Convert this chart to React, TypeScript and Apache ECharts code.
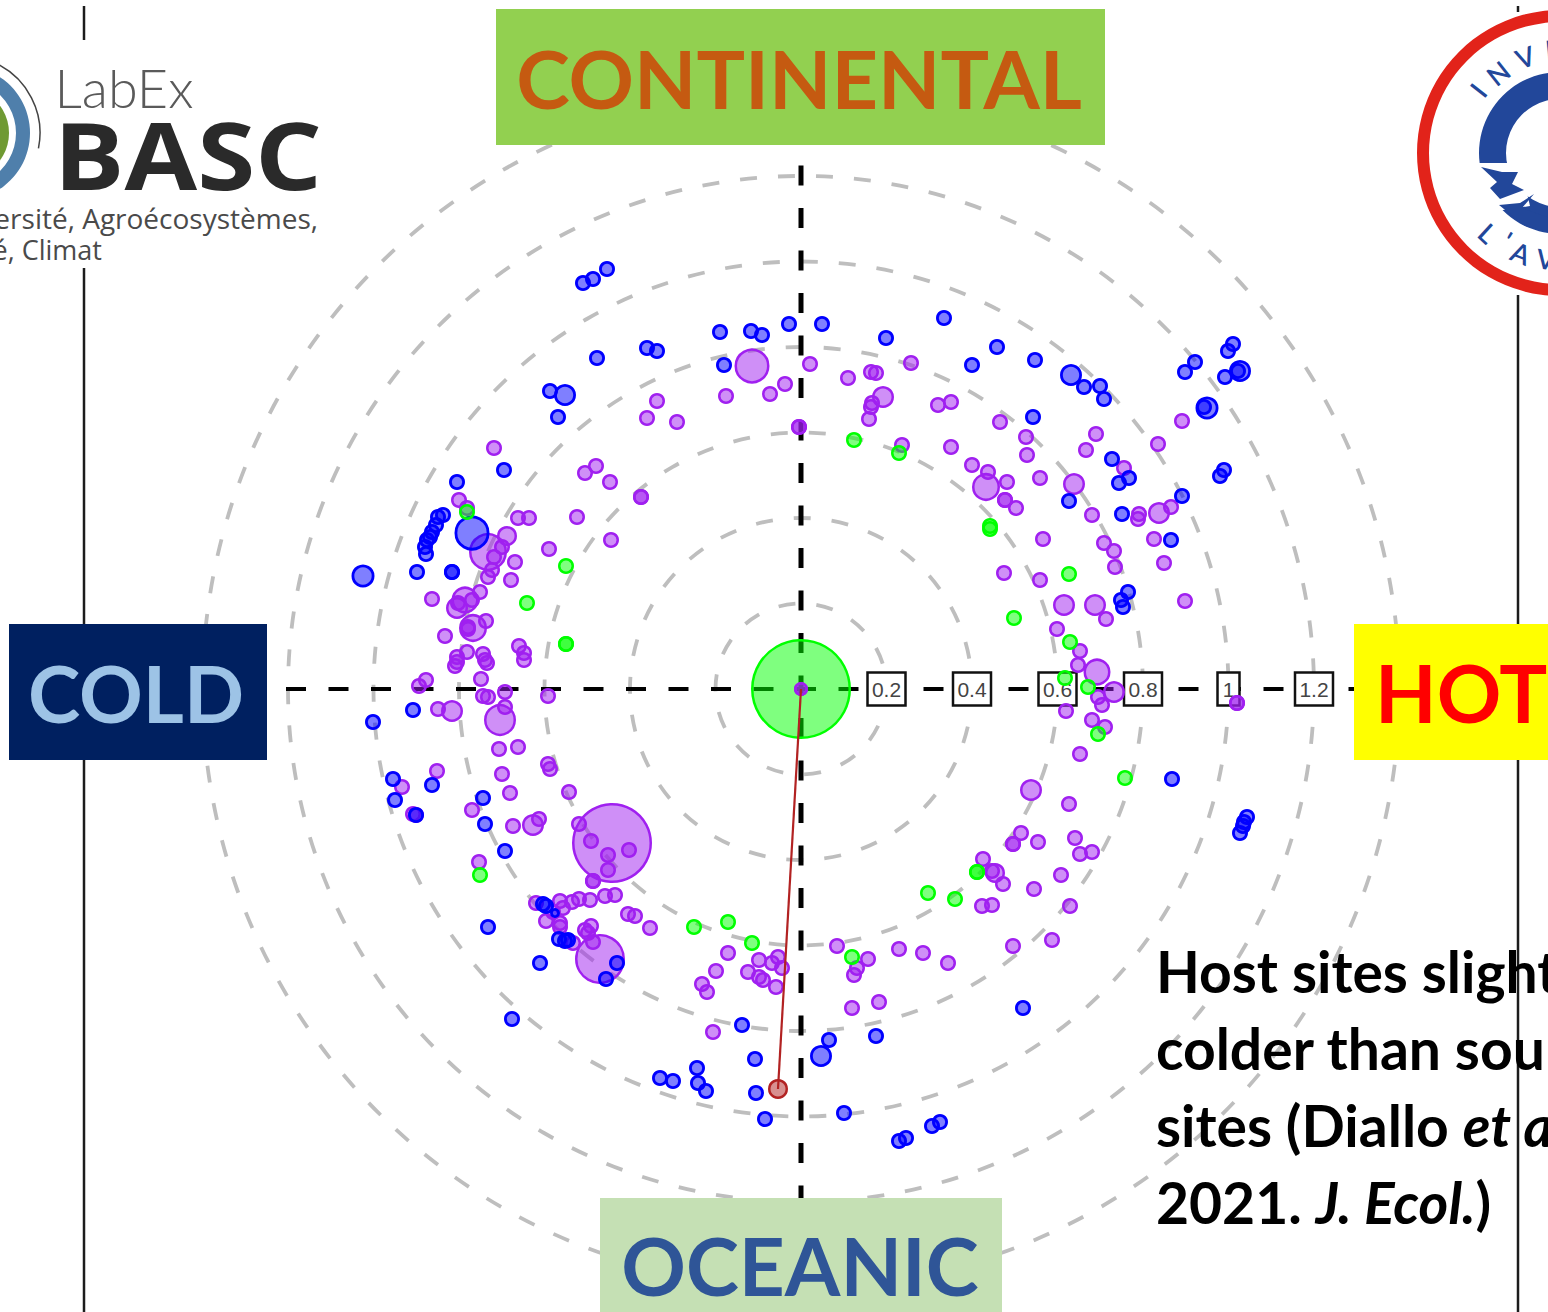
import React, { useEffect, useRef } from "react";
import * as echarts from "echarts";

// Index scale: 1 index unit on the radial scale equals this many data units of the point lists.
const UNIT = 427.5;
const ringValues = [0.2, 0.4, 0.6, 0.8, 1, 1.2, 1.4];
const tickLabels = ["0.2", "0.4", "0.6", "0.8", "1", "1.2"];
const tickValues = [0.2, 0.4, 0.6, 0.8, 1, 1.2];

// [x, y, optional weight] – 16 is the weight of an ordinary site
const purplePoints: number[][] = [
  [-307,241],[-342,189],[-334,181],[-283,171],[-272,171],[-224,172],[-252,140],[-313,137,38],[-294,153,20],[-299,142],
  [-307,132],[-286,127],[-309,119],[-313,112],[-290,109],[-369,90],[-336,89,27],[-344,81,22],[-343,86],[-329,89],
  [-321,97],[-328,61,28],[-333,62,16],[-333,60],[-315,68],[-356,53],[-282,43],[-277,36],[-277,29],[-334,37],
  [-344,32],[-344,27],[-346,23],[-318,35],[-316,29],[-314,26],
  [-375,9],[-382,3],[-320,10],[-318,-7],[-313,-8],[-296,-3],[-253,-7],[-363,-20],[-349,-22,22],[-301,-31,32],
  [-296,-18],[-302,-60],[-283,-58],[-253,-75],[-251,-80],[-299,-85],[-364,-82],[-399,-98],[-291,-104],[-232,-103],
  [-329,-121],[-388,-125],[-385,-126],[-288,-137],[-268,-136,22],[-262,-130],[-322,-173],
  [-189,-154,80],[-222,-135],[-210,-152],[-193,-166],[-172,-161],[-193,-181],[-208,-192],[-208,-192],[-265,-214],
  [-241,-212],[-229,-213],[-222,-210],[-211,-211],[-196,-207],[-186,-206],[-173,-225],[-166,-227],[-151,-239],
  [-238,-219],[-255,-232],[-241,-234],[-241,-238],[-228,-254],[-210,-237],[-216,-241],[-213,-244],[-208,-253],
  [-201,-270,50],[-248,-223],
  [-73,-264],[-85,-282],[-99,-295],[-94,-303],[-53,-283],[-42,-271],[-29,-274],[-23,-268],[-19,-279],[-42,-288],
  [-38,-291],[-25,-298],[-88,-343],[36,-257],[67,-270],[98,-260],[122,-264],[147,-274],[56,-279],[53,-286],
  [51,-319],[78,-313],
  [279,-65],[230,-101,22],[268,-115],[220,-144],[212,-155],[212,-155],[237,-153],[274,-149],[279,-165],[291,-163],
  [182,-170],[194,-184,20],[191,-182],[202,-195],[260,-186],[233,-200],[269,-217],[181,-217],[191,-216],[251,-251],
  [212,-257],
  [203,116],[239,109],[314,122],[363,126],[263,84,22],[294,84,22],[305,70],[384,88],[256,60],[279,38],
  [277,24],[296,17,27],[313,-3,22],[297,-8],[301,-16],[265,-22],[291,-31],[304,-38],[436,-14],[436,-14],
  [137,284],[150,287],[199,267],[225,252],[226,234],[150,242],[171,224],[187,217],[185,202,28],[206,207],
  [204,189],[204,189],[215,181],[239,211],[273,205,22],[295,255],[285,239],[357,245],[381,268],[323,221],
  [291,174],[338,175],[337,170],[358,176,22],[370,182],[353,150],[242,150],[303,146],[313,138],
  [-49,323,35],[9,325],[-16,305],[-31,295],[-75,293],[-2,262],[-2,262],[47,311],[70,317],[75,316],
  [82,292,22],[71,286],[70,282],[68,270],[110,326],[101,244],
  [-144,288],[-154,271],[-124,267],[-216,216],[-205,223],[-191,207],[-160,192],[-160,192],[-190,149],
  [0,0,14],[0,0,14],
];

const bluePoints: number[][] = [
  [-438,113,23],[-384,117],[-349,117],[-349,117],[-344,207],[-297,219],[-329,156,35],[-358,174],[-363,172],[-365,164],
  [-371,152],[-374,149],[-376,142],[-375,135],[-369,157],
  [-428,-33],[-388,-21],[-408,-90],[-369,-96],[-406,-111],[-318,-109],[-316,-135],[-296,-162],[-385,-126],
  [-258,-215],[-255,-217],[-246,-224,10],[-242,-250],[-236,-252],[-233,-251],[-313,-238],[-261,-274],[-289,-330],[-184,-274],[-195,-290],
  [-59,-336],[-46,-370],[-141,-389],[-128,-392],[-104,-379],[-103,-394],[-95,-402],[-45,-404],[-36,-430],[28,-351],
  [20,-367,22],[75,-347],[43,-424],[98,-452],[105,-449],[131,-437],[139,-433],
  [371,-90],[446,-128],[443,-133],[442,-137],[439,-144],[222,-319],[327,97],[320,89],[322,82],
  [196,342],[171,324],[234,329],[270,314,22],[283,302],[299,303],[303,290],[394,327],[384,317],[432,345],
  [427,338],[424,312],[439,318,22],[437,318],[406,281,23],[403,282],[232,272],[311,230],[328,211],[318,206],
  [268,188],[381,193],[321,175],[370,149],[423,219],[419,213],
  [-81,357],[-50,358],[-39,354],[-12,365],[21,365],[85,351],[143,371],[-77,324],
  [-194,420],[-208,410],[-218,406],[-204,331],[-154,341],[-144,338],[-251,298],[-236,294,22],[-243,272],
];

const greenPoints: number[][] = [
  [-334,177],[-235,123],[-274,86],[-235,45],[-235,45],[-321,-186],[-107,-238],[-73,-233],[-49,-254],[51,-268],
  [127,-204],[154,-210],[176,-183],[176,-183],[324,-89],[268,115],[213,71],[269,47],[264,11],[287,2],
  [297,-45],[189,160],[189,163],[53,249],[98,236],
];
const centreGreen: number[][] = [[0, 0, 100]];

const redLine: number[][] = [[0, 0], [-23, -400]];
const redPoint: number[][] = [[-23, -400, 20]];
const horizontalAxis: number[][] = [[-515, 0], [553, 0]];
const verticalAxis: number[][] = [[0, 566], [0, -509]];

const LATO = "Lato";
const navy = "#22479A";

function pointSeries(data: number[][], stroke: string, fill: string, z: number, width = 2.5) {
  return {
    type: "scatter", data, z, silent: true, clip: false,
    symbolSize: (v: number[]) => (v[2] ?? 16) - width,
    itemStyle: { color: fill, borderColor: stroke, borderWidth: width, opacity: 1 },
  };
}

function label(x: number, y: number, text: string, size: number, fill: string, extra: any = {}) {
  return {
    type: "text", x, y, z: 20, silent: true,
    style: {
      text, fill, fontFamily: LATO, fontWeight: "bold", fontSize: size,
      align: "center", verticalAlign: "middle", textAlign: "center", textVerticalAlign: "middle", ...extra,
    },
  };
}

function curved(x: number, y: number, text: string, rotation: number) {
  return { ...label(x, y, text, 27, navy, { fontWeight: 600 }), rotation };
}

function segment(x: number, y1: number, y2: number) {
  return { type: "line", z: 1, silent: true, shape: { x1: x, y1, x2: x, y2 }, style: { stroke: "#1c1c1c", lineWidth: 2.5 } };
}

function box(x: number, y: number, width: number, height: number, fill: string) {
  return { type: "rect", z: 19, silent: true, shape: { x, y, width, height }, style: { fill } };
}

const hostRich = {
  b: { fontFamily: LATO, fontWeight: "bold", fontSize: 57, fill: "#000" },
  i: { fontFamily: LATO, fontWeight: "bold", fontStyle: "italic", fontSize: 57, fill: "#000" },
};

function hostLine(y: number, text: string) {
  return {
    type: "text", x: 1156, y, z: 20, silent: true,
    style: { text, rich: hostRich, align: "left", verticalAlign: "middle", textAlign: "left", textVerticalAlign: "middle" },
  };
}

function buildOption() {
  const graphic: any[] = [
    segment(84, 6, 40), segment(84, 268, 624), segment(84, 760, 1312),
    segment(1518, 6, 12), segment(1518, 295, 624), segment(1518, 760, 1312),

    box(496, 9, 609, 136, "#92D050"), label(799, 77, "CONTINENTAL", 81, "#C55A11"),
    box(9, 624, 258, 136, "#002060"), label(136, 692, "COLD", 79, "#9DC3E6"),
    box(1354, 624, 194, 136, "#FFFF00"), label(1375, 692, "HOT", 80, "#FF0000", { align: "left", textAlign: "left" }),
    box(600, 1198, 402, 114, "#C5E0B4"), label(800, 1265, "OCEANIC", 80, "#2F5597"),

    hostLine(971, "{b|Host sites slightly}"),
    hostLine(1048, "{b|colder than source}"),
    hostLine(1125, "{b|sites (Diallo }{i|et al.}"),
    hostLine(1202, "{b|2021. }{i|J. Ecol.}{b|)}"),

    // LabEx BASC logo
    { type: "arc", z: 15, silent: true, shape: { cx: -37, cy: 133, r: 77, startAngle: -1.15, endAngle: 0.2 }, style: { stroke: "#444", fill: "none", lineWidth: 1.5 } },
    { type: "ring", z: 15, silent: true, shape: { cx: -37, cy: 133, r: 67, r0: 53 }, style: { fill: "#4F7FAB" } },
    { type: "circle", z: 15, silent: true, shape: { cx: -37, cy: 133, r: 46 }, style: { fill: "#6F9A33" } },
    label(124, 87, "LabEx", 54, "#5a5a5a", { fontWeight: 300 }),
    { ...label(188, 153, "BASC", 94, "#2a2a2a", { fontFamily: "Open Sans" }), scaleX: 1.12 },
    label(318, 218, "Biodiversité, Agroécosystèmes,", 28, "#4a4a4a", { fontWeight: "normal", align: "right", textAlign: "right", fontFamily: "Open Sans" }),
    label(102, 249, "Société, Climat", 27, "#4a4a4a", { fontWeight: "normal", align: "right", textAlign: "right", fontFamily: "Open Sans" }),

    // Round logo, right
    { type: "ring", z: 15, silent: true, shape: { cx: 1560, cy: 153, r: 143, r0: 131 }, style: { fill: "#E2231A" } },
    { type: "ring", z: 15, silent: true, shape: { cx: 1560, cy: 153, r: 81, r0: 54 }, style: { fill: navy } },
    { type: "polygon", z: 16, silent: true, shape: { points: [[1474,163],[1520,163],[1530,206],[1490,212],[1474,190]] }, style: { fill: "#fff" } },
    { type: "polygon", z: 17, silent: true, shape: { points: [[1481,167],[1502,172],[1518,172],[1512,184],[1524,190],[1500,199],[1490,188],[1497,182]] }, style: { fill: navy } },
    { type: "polygon", z: 17, silent: true, shape: { points: [[1499,205],[1520,203],[1534,194],[1522,208],[1560,222],[1560,234],[1525,226]] }, style: { fill: navy } },
    curved(1478, 90, "I", 0.91), curved(1498, 73, "N", 0.67), curved(1525, 57, "V", 0.35), curved(1553, 49, "E", 0.1),
    curved(1488, 233, "L", -0.74), curved(1507, 240, "'", -0.56), curved(1521, 253, "A", -0.38), curved(1546, 259, "V", -0.14),
  ];

  return {
    animation: false,
    backgroundColor: "#ffffff",
    grid: { left: 0, right: 0, top: 0, bottom: 0 },
    xAxis: { type: "value", show: false, min: -801, max: 747 },
    yAxis: { type: "value", show: false, min: -623, max: 689 },
    graphic,
    series: [
      {
        type: "custom", z: 1, silent: true, coordinateSystem: "cartesian2d",
        data: ringValues.map((v) => [v * UNIT, 0]),
        renderItem: (_: any, api: any) => {
          const c = api.coord([0, 0]);
          const e = api.coord([api.value(0), 0]);
          return {
            type: "circle",
            shape: { cx: c[0], cy: c[1], r: e[0] - c[0] },
            style: { fill: "none", stroke: "#BEBEBE", lineWidth: 3.8, lineDash: [17, 21] },
          };
        },
      },
      { type: "line", z: 2, silent: true, data: horizontalAxis, symbol: "none", lineStyle: { color: "#000", width: 4, type: [20, 22.5] } },
      { type: "line", z: 2, silent: true, data: verticalAxis, symbol: "none", lineStyle: { color: "#000", width: 5, type: [20, 22.5] } },
      {
        type: "custom", z: 3, silent: true, coordinateSystem: "cartesian2d",
        data: tickValues.map((v, i) => [v * UNIT, 0, i]),
        renderItem: (_: any, api: any) => {
          const p = api.coord([api.value(0), 0]);
          const text = tickLabels[api.value(2)];
          const w = text.length === 1 ? 22 : 38;
          return {
            type: "group",
            children: [
              { type: "rect", shape: { x: p[0] - w / 2, y: p[1] - 16.5, width: w, height: 33 }, style: { fill: "#fff", stroke: "#111", lineWidth: 2.5 } },
              { type: "text", x: p[0], y: p[1], style: { text, fill: "#444", fontFamily: "Liberation Sans", fontSize: 21, align: "center", verticalAlign: "middle", textAlign: "center", textVerticalAlign: "middle" } },
            ],
          };
        },
      },
      pointSeries(centreGreen, "#00FF00", "rgba(0,255,0,0.5)", 3),
      pointSeries(purplePoints, "#A020F0", "rgba(160,32,240,0.5)", 4),
      pointSeries(bluePoints, "#0000FF", "rgba(0,0,255,0.5)", 5, 2.8),
      pointSeries(greenPoints, "#00FF00", "rgba(0,255,0,0.5)", 6),
      { type: "line", z: 7, silent: true, data: redLine, symbol: "none", lineStyle: { color: "#B22222", width: 2.2 } },
      pointSeries(redPoint, "#B22222", "rgba(178,34,34,0.5)", 8),
    ],
  };
}

export default function App() {
  const ref = useRef<HTMLDivElement>(null);
  useEffect(() => {
    document.body.style.margin = "0";
    document.body.style.overflow = "hidden";
    const chart = echarts.init(ref.current!, undefined, { renderer: "svg" });
    chart.setOption(buildOption() as any);
    return () => chart.dispose();
  }, []);
  return <div ref={ref} style={{ width: 1548, height: 1312 }} />;
}
